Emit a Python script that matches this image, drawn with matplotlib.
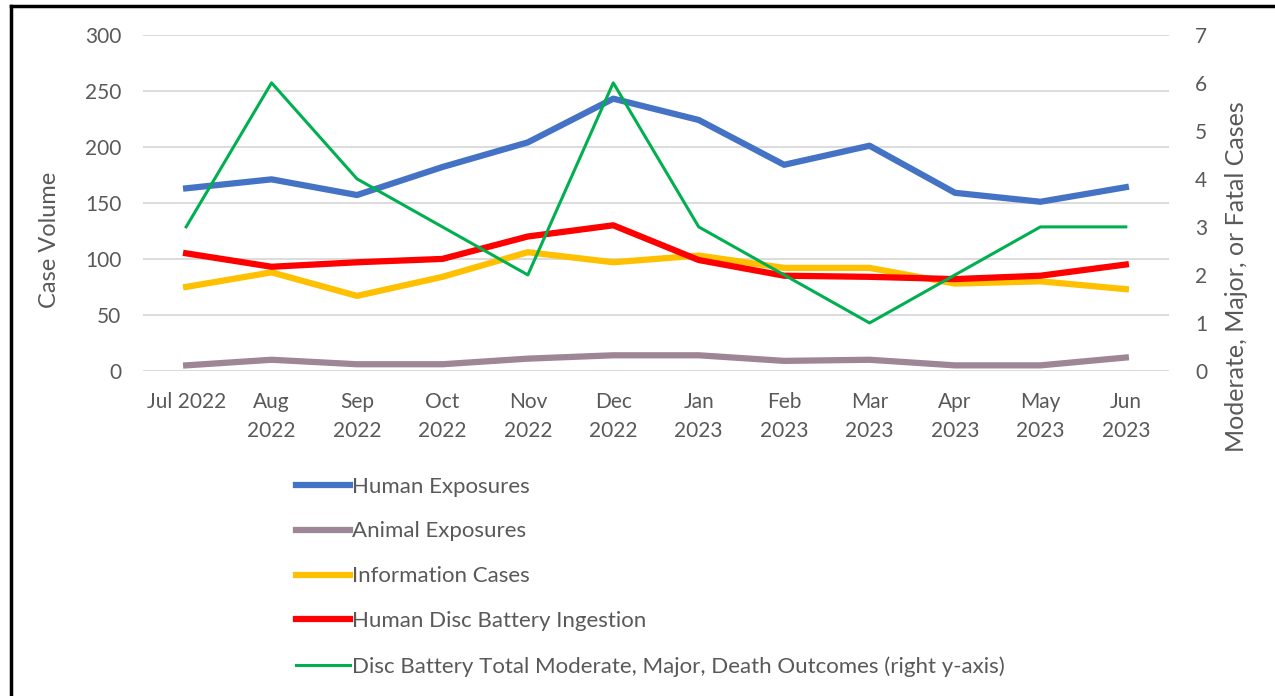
import matplotlib.pyplot as plt
from matplotlib.lines import Line2D

# chart data
months = ['Jul 2022', 'Aug\n2022', 'Sep\n2022', 'Oct\n2022', 'Nov\n2022', 'Dec\n2022',
          'Jan\n2023', 'Feb\n2023', 'Mar\n2023', 'Apr\n2023', 'May\n2023', 'Jun\n2023']
human_exposures = [163, 171, 157, 182, 204, 243, 224, 184, 201, 159, 151, 164]
animal_exposures = [5, 10, 6, 6, 11, 14, 14, 9, 10, 5, 5, 12]
information_cases = [75, 88, 67, 84, 106, 97, 103, 92, 92, 78, 80, 73]
disc_ingestion = [105, 93, 97, 100, 120, 130, 99, 85, 84, 82, 85, 95]
severe_outcomes = [3, 6, 4, 3, 2, 6, 3, 2, 1, 2, 3, 3]

plt.rcParams['font.family'] = ['Lato', 'DejaVu Sans']
text_col = '#595959'

fig = plt.figure(figsize=(12.75, 6.96), dpi=100)
ax = fig.add_axes([0.1125, 0.467, 0.804, 0.483])
ax2 = ax.twinx()

x = list(range(len(months)))
h1, = ax.plot(x, human_exposures, color='#4472C4', lw=4.5, label='Human Exposures')
h2, = ax.plot(x, animal_exposures, color='#9E8696', lw=4.5, label='Animal Exposures')
h3, = ax.plot(x, information_cases, color='#FFC000', lw=4.5, label='Information Cases')
h4, = ax.plot(x, disc_ingestion, color='#FF0000', lw=4.5, label='Human Disc Battery Ingestion')
h5, = ax2.plot(x, severe_outcomes, color='#00B050', lw=2.2,
               label='Disc Battery Total Moderate, Major, Death Outcomes (right y-axis)')

ax.set_xlim(-0.5, 11.5)
ax.set_ylim(0, 300)
ax.set_yticks(range(0, 301, 50))
ax2.set_ylim(0, 7)
ax2.set_yticks(range(0, 8))
ax.grid(axis='y', color='#D9D9D9', lw=1.3)
ax.set_axisbelow(True)

ax.set_xticks(x)
ax.set_xticklabels(months, fontsize=15, color=text_col, linespacing=1.6)
for a in (ax, ax2):
    for s in a.spines.values():
        s.set_visible(False)
    a.tick_params(length=0, labelsize=15, colors=text_col)
ax.tick_params(axis='y', pad=16)
ax.tick_params(axis='x', pad=15)
ax2.tick_params(axis='y', pad=19)

# axis titles placed like the original
fig.text(0.039, 0.655, 'Case Volume', rotation=90, ha='center', va='center',
         fontsize=17, color=text_col)
fig.text(0.970, 0.603, 'Moderate, Major, or Fatal Cases', rotation=90, ha='center', va='center',
         fontsize=18, color=text_col)

fig.legend(handles=[h1, h2, h3, h4, h5], loc='upper left', bbox_to_anchor=(0.225, 0.328),
           frameon=False, fontsize=16, labelcolor=text_col, handlelength=2.45,
           handletextpad=0.08, labelspacing=1.12, borderaxespad=0)

# border on the left and top edges
fig.add_artist(Line2D([0.0086, 0.0086], [0, 0.991], color='black', lw=2.5, transform=fig.transFigure))
fig.add_artist(Line2D([0.0086, 1], [0.991, 0.991], color='black', lw=2.5, transform=fig.transFigure))

fig.savefig('out.png', dpi=100)
